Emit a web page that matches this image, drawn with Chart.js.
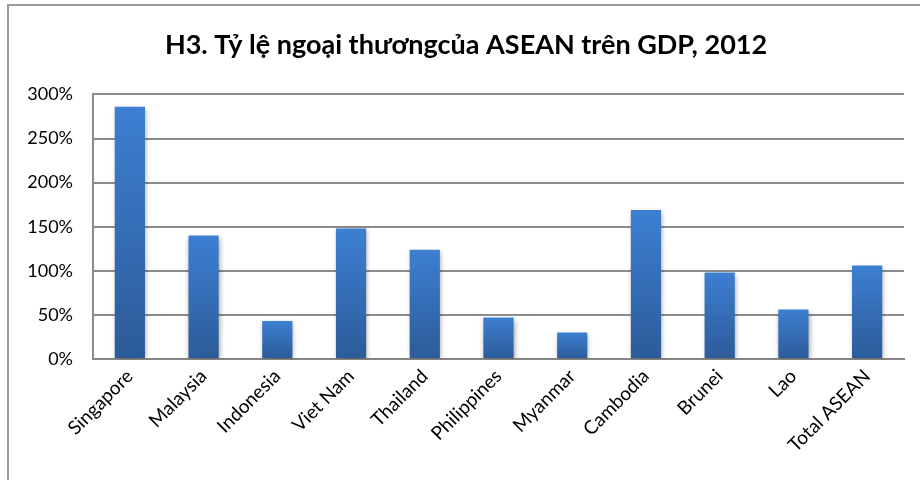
<!DOCTYPE html>
<html><head><meta charset="utf-8">
<script src="https://cdn.jsdelivr.net/npm/chart.js@4/dist/chart.umd.min.js"></script>
<style>html,body{margin:0;padding:0;background:#fff;}#wrap{position:absolute;left:0;top:0;width:920px;height:480px;}</style>
</head><body>
<div id="wrap"><canvas id="c" width="920" height="480"></canvas></div>
<script>
const categories = ["Singapore","Malaysia","Indonesia","Viet Nam","Thailand","Philippines","Myanmar","Cambodia","Brunei","Lao","Total ASEAN"];
const tradeToGdp = [286, 140, 43, 148, 124, 47, 30, 169, 98, 56, 106];
const yTicks = [0, 50, 100, 150, 200, 250, 300];
const titleText = "H3. Tỷ lệ ngoại thươngcủa ASEAN trên GDP, 2012";
const FONT = "Lato, 'Open Sans', sans-serif";

const framePlugin = {
  id: 'frame',
  beforeDraw(chart) {
    const ctx = chart.ctx;
    ctx.save();
    ctx.fillStyle = '#fff';
    ctx.fillRect(0, 0, chart.width, chart.height);
    ctx.strokeStyle = '#9a9a9a';
    ctx.lineWidth = 2;
    ctx.beginPath();
    ctx.moveTo(8, chart.height);
    ctx.lineTo(8, 5);
    ctx.lineTo(chart.width, 5);
    ctx.stroke();
    ctx.restore();
  },
  beforeDatasetsDraw(chart) {
    const ctx = chart.ctx;
    ctx.save();
    ctx.shadowColor = 'rgba(0,0,0,0.35)';
    ctx.shadowBlur = 5;
    ctx.shadowOffsetX = 1;
    ctx.shadowOffsetY = 2;
  },
  afterDatasetsDraw(chart) {
    chart.ctx.restore();
  }
};

new Chart(document.getElementById('c'), {
  type: 'bar',
  data: {
    labels: categories,
    datasets: [{
      data: tradeToGdp,
      backgroundColor: (context) => {
        const chart = context.chart;
        const area = chart.chartArea;
        if (!area) return '#3a75c4';
        const y = chart.scales.y;
        const v = context.raw || 0;
        const top = y.getPixelForValue(v);
        const g = chart.ctx.createLinearGradient(0, top, 0, area.bottom);
        g.addColorStop(0, '#3d7fd2');
        g.addColorStop(1, '#2c5b98');
        return g;
      },
      borderWidth: 0,
      categoryPercentage: 1,
      barPercentage: 0.41
    }]
  },
  options: {
    responsive: false,
    animation: false,
    devicePixelRatio: 1,
    layout: { padding: { left: 28, right: 16, top: 0, bottom: 0 } },
    plugins: {
      legend: { display: false },
      tooltip: { enabled: false },
      title: {
        display: true,
        text: titleText,
        color: '#000',
        font: { family: FONT, size: 27, weight: 'bold' },
        padding: { top: 29, bottom: 33 }
      }
    },
    scales: {
      x: {
        grid: { display: false, drawTicks: false },
        border: { display: true, color: '#868686', width: 2 },
        ticks: {
          color: '#000',
          font: { family: FONT, size: 19 },
          maxRotation: 45, minRotation: 45,
          padding: 6,
          autoSkip: false
        },
        afterFit(s) { s.height = 121; }
      },
      y: {
        min: 0, max: 300,
        afterBuildTicks(s) { s.ticks = yTicks.map(v => ({ value: v })); },
        grid: { color: '#8c8c8c', lineWidth: 2, drawTicks: false },
        border: { display: true, color: '#8c8c8c', width: 2 },
        ticks: {
          color: '#000',
          font: { family: FONT, size: 18 },
          padding: 20,
          callback: v => v + '%'
        },
        afterFit(s) { s.width = 65; }
      }
    }
  },
  plugins: [framePlugin]
});
</script>
</body></html>
